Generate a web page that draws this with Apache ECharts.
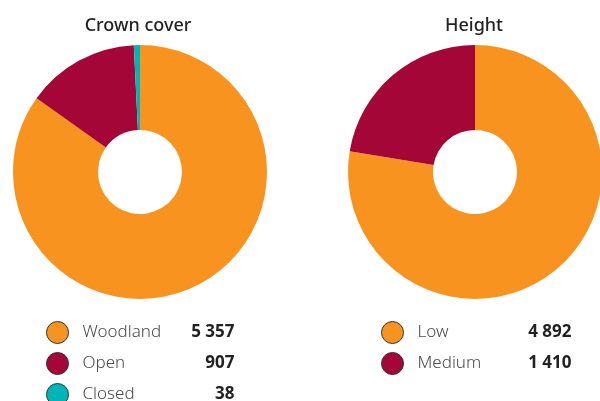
<!DOCTYPE html>
<html><head><meta charset="utf-8">
<script src="https://cdn.jsdelivr.net/npm/echarts@6/dist/echarts.min.js"></script>
<style>html,body{margin:0;padding:0;background:#fff}#c{width:600px;height:401px}</style>
</head><body><div id="c"></div>
<script>
const coverNames = ['Woodland', 'Open', 'Closed'];
const coverValues = [5357, 907, 38];
const heightNames = ['Low', 'Medium'];
const heightValues = [4892, 1410];
const colors = ['#F7931E', '#A50638', '#00B4B7'];

const fmt = v => String(v).replace(/\B(?=(\d{3})+(?!\d))/g, ' ');
const FONT = '"Noto Sans", "Open Sans", sans-serif';

function mkData(names, vals) {
  return names.map((n, i) => ({ name: n, value: vals[i], itemStyle: { color: colors[i] } }));
}
function mkLegend(names, vals, left, nameW) {
  const lookup = {}; names.forEach((n, i) => lookup[n] = vals[i]);
  return {
    data: names, orient: 'vertical', left: left, top: 321, height: 120, width: 220, padding: 0,
    icon: 'circle', itemWidth: 22, itemHeight: 22, itemGap: 8,
    itemStyle: { borderColor: '#333', borderWidth: 1 },
    selectedMode: false,
    formatter: n => '{sp| }{name|' + n + '}{val|' + fmt(lookup[n]) + '}',
    textStyle: {
      rich: {
        sp: { width: 9 },
        name: { width: nameW, fontSize: 17, color: '#4a4a4a', fontFamily: FONT, fontWeight: 300 },
        val: { width: 60, align: 'right', fontSize: 17, color: '#222', fontFamily: FONT, fontWeight: 'bold' }
      }
    }
  };
}

const chart = echarts.init(document.getElementById('c'), null, { renderer: 'canvas' });
chart.setOption({
  animation: false,
  title: [
    { text: 'Crown cover', left: 138, top: 17, padding: 0, textAlign: 'center', textStyle: { fontSize: 18, fontWeight: 500, color: '#222', fontFamily: FONT } },
    { text: 'Height', left: 474, top: 17, padding: 0, textAlign: 'center', textStyle: { fontSize: 18, fontWeight: 500, color: '#222', fontFamily: FONT } }
  ],
  legend: [
    mkLegend(coverNames, coverValues, 46, 92),
    mkLegend(heightNames, heightValues, 381, 94)
  ],
  series: [
    { type: 'pie', center: [140, 172], radius: [42, 127], startAngle: 90, clockwise: true, minAngle: 2.8,
      label: { show: false }, labelLine: { show: false }, silent: true,
      data: mkData(coverNames, coverValues) },
    { type: 'pie', center: [475, 172], radius: [42, 127], startAngle: 90, clockwise: true,
      label: { show: false }, labelLine: { show: false }, silent: true,
      data: mkData(heightNames, heightValues) }
  ]
});
</script></body></html>
